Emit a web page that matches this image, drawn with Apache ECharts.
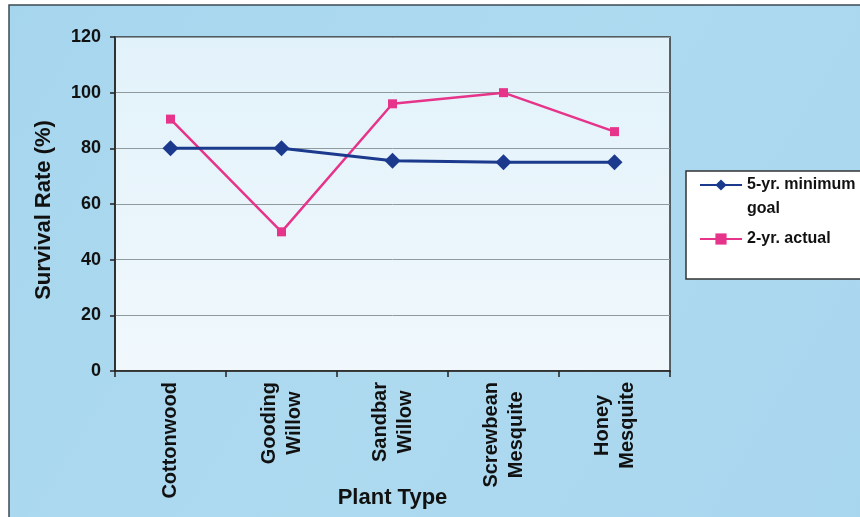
<!DOCTYPE html>
<html>
<head>
<meta charset="utf-8">
<script src="https://cdn.jsdelivr.net/npm/echarts@6/dist/echarts.min.js"></script>
<style>
  html, body { margin: 0; padding: 0; background: #fff; }
  #chart { width: 860px; height: 517px; }
</style>
</head>
<body>
<div id="chart"></div>
<script>
// plant types on the x axis
var categories = ["Cottonwood", "Gooding\nWillow", "Sandbar\nWillow", "Screwbean\nMesquite", "Honey\nMesquite"];
// survival rates (%)
var goalValues = [80, 80, 75.5, 75, 75];
var actualValues = [90.5, 50, 96, 100, 86];
var yTicks = [0, 20, 40, 60, 80, 100, 120];

var goalName = "5-yr. minimum\ngoal";
var actualName = "2-yr. actual";

var font = "'Liberation Sans', Arial, sans-serif";
var myChart = echarts.init(document.getElementById("chart"));

var option = {
  backgroundColor: "#fff",
  animation: false,
  graphic: [
    {
      type: "rect",
      z: -10,
      shape: { x: 9, y: 5, width: 870, height: 530 },
      style: {
        fill: new echarts.graphic.LinearGradient(0, 0, 1, 1, [
          { offset: 0, color: "#A6D6EE" },
          { offset: 0.5, color: "#AEDAF0" },
          { offset: 1, color: "#A8D6EE" }
        ]),
        stroke: "#3c4a55",
        lineWidth: 1.5
      }
    },
    {
      type: "rect",
      z: 1,
      shape: { x: 686, y: 171, width: 190, height: 108 },
      style: { fill: "#ffffff", stroke: "#333", lineWidth: 1.5 }
    }
  ],
  legend: {
    orient: "vertical",
    left: 699,
    top: 149,
    padding: 0,
    itemGap: 6,
    itemWidth: 42,
    itemHeight: 14,
    data: [goalName, actualName],
    formatter: function (name) {
      return name.indexOf("\n") >= 0 ? "\n" + name : name;
    },
    textStyle: {
      fontFamily: font,
      fontSize: 16,
      fontWeight: "bold",
      color: "#111",
      lineHeight: 24
    }
  },
  grid: {
    left: 115,
    right: 190,
    top: 37,
    bottom: 146,
    outerBoundsMode: "none",
    containLabel: false,
    show: true,
    backgroundColor: new echarts.graphic.LinearGradient(0, 0, 0, 1, [
      { offset: 0, color: "#E2F2FA" },
      { offset: 1, color: "#F0F8FC" }
    ]),
    borderColor: "#333",
    borderWidth: 1.5
  },
  xAxis: {
    type: "category",
    data: categories,
    boundaryGap: true,
    name: "Plant Type",
    nameLocation: "middle",
    nameGap: 116,
    nameMoveOverlap: false,
    nameTextStyle: { fontFamily: font, fontSize: 22, fontWeight: "bold", color: "#111" },
    axisLine: { lineStyle: { color: "#222", width: 1.5 } },
    axisTick: { show: true, length: 6, alignWithLabel: false, lineStyle: { color: "#222", width: 1.5 } },
    axisLabel: {
      rotate: 90,
      margin: 11,
      interval: 0,
      formatter: function (v) {
        return v.split("\n").map(function (s) { return "{c|" + s + "}"; }).join("\n");
      },
      rich: {
        c: {
          align: "center",
          fontFamily: font,
          fontSize: 20,
          fontWeight: "bold",
          color: "#111",
          lineHeight: 25
        }
      }
    }
  },
  yAxis: {
    type: "value",
    min: 0,
    max: 120,
    interval: 20,
    name: "Survival Rate (%)",
    nameLocation: "middle",
    nameRotate: 90,
    nameGap: 60,
    nameMoveOverlap: false,
    nameTextStyle: { fontFamily: font, fontSize: 22, fontWeight: "bold", color: "#111", padding: [0, 12, 0, 0] },
    axisLine: { show: true, lineStyle: { color: "#222", width: 1.5 } },
    axisTick: { show: true, length: 5, lineStyle: { color: "#222", width: 1.5 } },
    axisLabel: {
      margin: 14,
      fontFamily: font,
      fontSize: 18,
      fontWeight: "bold",
      color: "#111",
      customValues: yTicks
    },
    splitLine: { lineStyle: { color: "#8f9a9f", width: 1 } }
  },
  series: [
    {
      name: goalName,
      type: "line",
      data: goalValues,
      symbol: "diamond",
      symbolSize: 16,
      itemStyle: { color: "#1B3A8E" },
      lineStyle: { color: "#1B3A8E", width: 3 },
      z: 3
    },
    {
      name: actualName,
      type: "line",
      data: actualValues,
      symbol: "rect",
      symbolSize: 9,
      itemStyle: { color: "#E6348A" },
      lineStyle: { color: "#E6348A", width: 2.5 },
      z: 2
    }
  ]
};

myChart.setOption(option);
window.addEventListener("resize", function () { myChart.resize(); });
</script>
</body>
</html>
